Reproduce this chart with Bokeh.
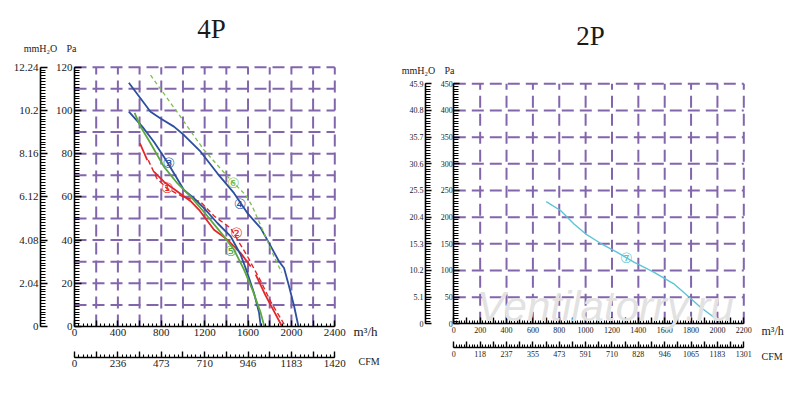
from bokeh.plotting import figure
from bokeh.models import LinearAxis, FixedTicker, Label, Range1d, ColumnDataSource
from bokeh.embed import file_html
from bokeh.resources import INLINE
from bokeh.core.properties import value

NaN = float("nan")
FONT = "Liberation Serif"

# ---------------- 4P chart data (airflow m3/h -> static pressure Pa) ----------------
c1_x = [603, 671, NaN, 732, 824, 948, 1071, 1148, 1286, 1409, 1532, 1625, NaN, 1671, 1760, 1840, 1914]
c1_y = [84.8, 77.0, NaN, 71.7, 67.0, 62.5, 58.0, 54.0, 44.8, 40.2, 34.0, 27.8, NaN, 24.0, 14.5, 7.0, 0]
c2_x = [680, 760, 850, 1000, 1160, 1290, 1440, 1594, 1717, 1809, 1945]
c2_y = [77.0, 68.5, 64.0, 60.0, 57.8, 51.0, 45.5, 32.5, 21.0, 11.5, 0]
c3_x = [501, 625, 732, 824, 917, 1009, 1101, 1194, 1317, 1440, 1532, 1594, 1655, 1702, 1717]
c3_y = [99.4, 92.5, 85.5, 78.6, 70.9, 63.2, 59.4, 54.8, 47.9, 41.7, 33.2, 24.8, 15.5, 6.3, 0]
c4_x = [501, 701, 794, 917, 1009, 1163, 1317, 1471, 1594, 1717, 1794, 1886, 1932, 1978, 2025, 2065]
c4_y = [112.8, 99.4, 96.3, 92.5, 88.6, 80.9, 70.9, 61.7, 52.5, 45.5, 38.6, 30.1, 27.1, 18.6, 9.4, 0]
c5_x = [554, 609, 701, 824, 948, 1071, 1194, 1378, 1471, 1563, 1640, 1717, 1750]
c5_y = [98.9, 92.5, 84.8, 74.0, 66.3, 60.1, 53.0, 41.7, 35.5, 26.3, 17.1, 6.3, 0]
c6_x = [701, 950, 1194, 1440, 1578, 1640, 1748, 1840, 1910]
c6_y = [116.3, 99.0, 81.7, 67.8, 60.9, 55.5, 43.2, 32.4, 25.0]

tags4_text = ["\u2460", "\u2461", "\u2462", "\u2463", "\u2464", "\u2465"]
tags4_x = [855, 1495, 870, 1526, 1440, 1465]
tags4_y = [64.3, 43.2, 75.8, 56.6, 34.8, 66.6]

# ---------------- 2P chart data ----------------
c7_x = [701, 810, 910, 999, 1113, 1240, 1366, 1517, 1669, 1771, 1872, 1973, 2036]
c7_y = [229, 212.4, 187.5, 168.7, 151, 134, 115.5, 96.8, 75, 53, 31, 12.4, 0]
tags2_text = ["\u2466"]
tags2_x = [1308]
tags2_y = [123.7]

# ---------------- tick labels / grid ----------------
pa_ticks_4p = [0, 20, 40, 60, 80, 100, 120]
mmh2o_labels_4p = ["0", "2.04", "4.08", "6.12", "8.16", "10.2", "12.24"]
m3h_ticks_4p = [0, 400, 800, 1200, 1600, 2000, 2400]
cfm_labels_4p = ["0", "236", "473", "710", "946", "1183", "1420"]
grid_x_4p = [200 * i for i in range(1, 13)]
grid_y_4p = [10 * i for i in range(1, 13)]

pa_ticks_2p = [0, 50, 100, 150, 200, 250, 300, 350, 400, 450]
mmh2o_labels_2p = ["0", "5.1", "10.2", "15.3", "20.4", "25.5", "30.6", "35.7", "40.8", "45.9"]
m3h_ticks_2p = [0, 200, 400, 600, 800, 1000, 1200, 1400, 1600, 1800, 2000, 2200]
cfm_labels_2p = ["0", "118", "237", "355", "473", "591", "710", "828", "946", "1065", "1183", "1301"]
grid_x_2p = [200 * i for i in range(1, 12)]
grid_y_2p = [50 * i for i in range(1, 10)]

GRID = "#8266ac"
BLUE = "#2c4f9e"
GREEN = "#5aa83e"
GREEN_D = "#7cc04e"
RED = "#e3262a"
CYAN = "#5cc4d6"

# ---------------- page geometry (pixels in the picture) ----------------
W, H = 784, 386
OX, OY = 0, 0


def mapper(p0, v0, p1, v1):
    return lambda px: v0 + (px - p0) * (v1 - v0) / (p1 - p0)


X1 = mapper(74.0, 0, 334.3, 2400)     # left chart, m3/h
Y1 = mapper(326.0, 0, 66.7, 120)      # left chart, Pa
X2 = mapper(453.3, 0, 743.3, 2200)    # right chart, m3/h
Y2 = mapper(323.3, 0, 83.3, 450)      # right chart, Pa

p = figure(width=W, height=H, x_range=Range1d(X1(OX), X1(OX + W)), y_range=Range1d(Y1(OY + H), Y1(OY)),
           x_axis_type=None, y_axis_type=None, output_backend="svg", toolbar_location=None,
           min_border=0, title=None)
p.extra_x_ranges = {"q2": Range1d(X2(OX), X2(OX + W))}
p.extra_y_ranges = {"p2": Range1d(Y2(OY + H), Y2(OY))}
p.outline_line_color = None
p.background_fill_color = "white"
p.border_fill_color = "white"

R2 = dict(x_range_name="q2", y_range_name="p2")


def style_axis(ax, size, standoff, tin, minin):
    ax.major_label_text_font = FONT
    ax.major_label_text_font_size = size
    ax.major_label_text_color = "#1a1a1a"
    ax.major_label_standoff = standoff
    ax.major_tick_in = tin
    ax.major_tick_out = 0
    ax.minor_tick_in = minin
    ax.minor_tick_out = 0
    ax.axis_line_width = 1.6
    ax.major_tick_line_width = 1.4
    ax.minor_tick_line_width = 1.1


def add_text(x, y, text, size, align="center", color="#1a1a1a", font=FONT, style="normal", rng=None):
    kw = rng or {}
    p.add_layout(Label(x=x, y=y, text=text, text_font=font, text_font_size=size,
                       text_align=align, text_baseline="middle", text_color=color,
                       text_font_style=style, **kw))


def grid(xs, ys, xmax, ymax, rng=None):
    kw = rng or {}
    p.segment(x0=xs, y0=[0] * len(xs), x1=xs, y1=[ymax] * len(xs), line_color=GRID,
              line_width=2, line_dash="12 6", **kw)
    p.segment(x0=[0] * len(ys), y0=ys, x1=[xmax] * len(ys), y1=ys, line_color=GRID,
              line_width=2, line_dash="12 6", **kw)


# ======================= 4P =======================
grid(grid_x_4p, grid_y_4p, 2400, 120)

minor_pa4 = [i * 4.0 / 3.0 for i in range(91)]
ax = LinearAxis(ticker=FixedTicker(ticks=pa_ticks_4p, minor_ticks=minor_pa4), bounds=(0, 120),
                fixed_location=0)
style_axis(ax, "11px", 2, 7, 5)
p.add_layout(ax, "left")
ax = LinearAxis(ticker=FixedTicker(ticks=pa_ticks_4p, minor_ticks=minor_pa4), bounds=(0, 120),
                fixed_location=X1(40),
                major_label_overrides={t: l for t, l in zip(pa_ticks_4p, mmh2o_labels_4p)})
style_axis(ax, "11px", 2, 7, 5)
p.add_layout(ax, "left")

maj_x4 = [200 * i for i in range(13)]
min_x4 = [40 * i for i in range(61)]
ov = {t: "" for t in maj_x4}
ov.update({t: str(t) for t in m3h_ticks_4p})
ax = LinearAxis(ticker=FixedTicker(ticks=maj_x4, minor_ticks=min_x4), bounds=(0, 2400),
                fixed_location=0, major_label_overrides=ov)
style_axis(ax, "11px", 2, 6, 3)
p.add_layout(ax, "below")
ov = {t: "" for t in maj_x4}
ov.update({t: l for t, l in zip(m3h_ticks_4p, cfm_labels_4p)})
ax = LinearAxis(ticker=FixedTicker(ticks=maj_x4, minor_ticks=min_x4), bounds=(0, 2400),
                fixed_location=Y1(356.7), major_label_overrides=ov)
style_axis(ax, "11px", 3, 6, 3)
p.add_layout(ax, "below")

p.line(c1_x, c1_y, line_color=RED, line_width=1.8)
p.line(c2_x, c2_y, line_color=RED, line_width=1.4, line_dash="5 3")
p.line(c3_x, c3_y, line_color=BLUE, line_width=1.8)
p.line(c4_x, c4_y, line_color=BLUE, line_width=1.8)
p.line(c5_x, c5_y, line_color=GREEN, line_width=1.8)
p.line(c6_x, c6_y, line_color=GREEN_D, line_width=1.3, line_dash="4 3")

src4 = ColumnDataSource(dict(x=tags4_x, y=tags4_y, t=tags4_text,
                             c=[RED, RED, BLUE, BLUE, GREEN, GREEN_D]))
p.text("x", "y", text="t", source=src4, text_color="c", text_font=value("DejaVu Sans"),
       text_font_size="14px", text_align="center", text_baseline="middle")

add_text(X1(211), Y1(28), "4P", "27px")
add_text(X1(40), Y1(48), "mmH\u2082O", "10px")
add_text(X1(71), Y1(48), "Pa", "10px")
add_text(X1(353), Y1(331), "m\u00b3/h", "13px", align="left")
add_text(X1(358), Y1(361), "CFM", "10px", align="left")

# ======================= 2P =======================
grid(grid_x_2p, grid_y_2p, 2200, 450, R2)

minor_pa2 = [5 * i for i in range(91)]
ax = LinearAxis(ticker=FixedTicker(ticks=pa_ticks_2p, minor_ticks=minor_pa2), bounds=(0, 450),
                fixed_location=0, **R2)
style_axis(ax, "8px", 1, 6, 5)
p.add_layout(ax, "left")
ax = LinearAxis(ticker=FixedTicker(ticks=pa_ticks_2p, minor_ticks=minor_pa2), bounds=(0, 450),
                fixed_location=X2(425),
                major_label_overrides={t: l for t, l in zip(pa_ticks_2p, mmh2o_labels_2p)}, **R2)
style_axis(ax, "8px", 2, 6, 5)
p.add_layout(ax, "left")

maj_x2 = [100 * i for i in range(23)]
min_x2 = [20 * i for i in range(111)]
ov = {t: "" for t in maj_x2}
ov.update({t: str(t) for t in m3h_ticks_2p})
ax = LinearAxis(ticker=FixedTicker(ticks=maj_x2, minor_ticks=min_x2), bounds=(0, 2200),
                fixed_location=0, major_label_overrides=ov, **R2)
style_axis(ax, "8px", 3, 6, 3)
p.add_layout(ax, "below")
ov = {t: "" for t in maj_x2}
ov.update({t: l for t, l in zip(m3h_ticks_2p, cfm_labels_2p)})
ax = LinearAxis(ticker=FixedTicker(ticks=maj_x2, minor_ticks=min_x2), bounds=(0, 2200),
                fixed_location=Y2(346.7), major_label_overrides=ov, **R2)
style_axis(ax, "8px", 4, 6, 3)
p.add_layout(ax, "below")

add_text(X2(605), Y2(306), "Ventilatorry.ru", "42px", color="#e2e2e2", font="Liberation Sans",
         style="italic", rng=R2)

p.line(c7_x, c7_y, line_color=CYAN, line_width=1.4, **R2)
src2 = ColumnDataSource(dict(x=tags2_x, y=tags2_y, t=tags2_text))
p.text("x", "y", text="t", source=src2, text_color=CYAN, text_font=value("DejaVu Sans"),
       text_font_size="14px", text_align="center", text_baseline="middle", **R2)

add_text(X2(590), Y2(35), "2P", "27px", rng=R2)
add_text(X2(418), Y2(70), "mmH\u2082O", "10px", rng=R2)
add_text(X2(449), Y2(70), "Pa", "10px", rng=R2)
add_text(X2(761), Y2(330), "m\u00b3/h", "12px", align="left", rng=R2)
add_text(X2(761), Y2(356), "CFM", "10px", align="left", rng=R2)

open("out.html", "w").write(file_html(p, INLINE))
